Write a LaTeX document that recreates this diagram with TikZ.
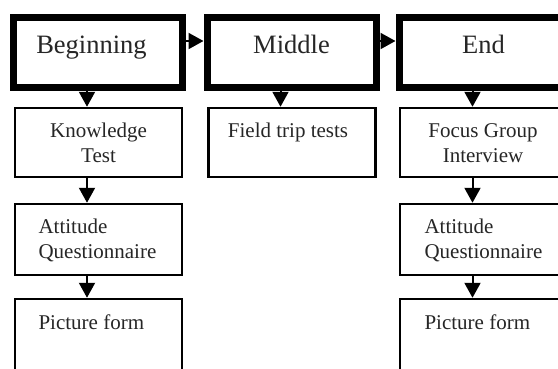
\documentclass[tikz,border=0pt]{standalone}
\usepackage{fontspec}
\setmainfont{Liberation Serif}
\usetikzlibrary{arrows.meta}

\begin{document}
\begin{tikzpicture}
[x=1pt, y=-1pt,
stage/.style={draw, line width=7pt, minimum width=169pt, minimum height=70pt},
task/.style={draw, line width=2.5pt, minimum width=167pt, minimum height=69pt},
stagetext/.style={anchor=base, text=black!85, font=\fontsize{26.5}{30}\selectfont},
tasktext/.style={anchor=base, text=black!85, align=center, font=\fontsize{21}{25}\selectfont},
flow/.style={line width=2pt, -{Triangle[length=15pt, width=16pt]}}]
\useasboundingbox (0,0) rectangle (558,368);
\clip (0,0) rectangle (558,368);
\fill[white] (0,0) rectangle (558,368);
\node[stage] (beg) at (98,52.5) {};
\node[stage] (mid) at (291.5,52.5) {};
\node[stage] (end) at (483.5,52.5) {};
\node[stagetext] (begtxt) at (91.5,53) {Beginning};
\node[stagetext] (midtxt) at (291.5,53) {Middle};
\node[stagetext] (endtxt) at (483.5,53) {End};
\node[task] (know) at (98.5,142.5) {};
\node[task] (trip) at (292,142.5) {};
\node[task] (focus) at (483.5,142.5) {};
\node[tasktext] (knowtxt) at (98.5,162) {Knowledge\\Test};
\node[tasktext] (triptxt) at (288,137) {Field trip tests};
\node[tasktext] (focustxt) at (483,162) {Focus Group\\Interview};
\node[task, minimum height=71pt] (attbeg) at (98.5,239.5) {};
\node[task, minimum height=71pt] (attend) at (483.5,239.5) {};
\node[tasktext, align=left, anchor=base west] (attbegtxt) at (35,258) {Attitude\\Questionnaire};
\node[tasktext, align=left, anchor=base west] (attendtxt) at (421,258) {Attitude\\Questionnaire};
\node[task, minimum height=100pt] (picbeg) at (98.5,349) {};
\node[task, minimum height=100pt] (picend) at (483.5,349) {};
\node[tasktext, anchor=base west] (picbegtxt) at (35,329) {Picture form};
\node[tasktext, anchor=base west] (picendtxt) at (421,329) {Picture form};
\draw[flow] ([yshift=11.5pt]beg.east) -- ([yshift=11.5pt]mid.west);
\draw[flow] ([yshift=11.5pt]mid.east) -- ([yshift=11.5pt]end.west);
\draw[flow] ([xshift=-11pt,yshift=5pt]beg.south) -- ([xshift=-11.5pt]know.north);
\draw[flow] ([xshift=-11pt,yshift=5pt]mid.south) -- ([xshift=-11.5pt]trip.north);
\draw[flow] ([xshift=-11pt,yshift=5pt]end.south) -- ([xshift=-11pt]focus.north);
\draw[flow] ([xshift=-11.5pt]know.south) -- ([xshift=-11.5pt]attbeg.north);
\draw[flow] ([xshift=-11pt]focus.south) -- ([xshift=-11pt]attend.north);
\draw[flow] ([xshift=-11.5pt]attbeg.south) -- ([xshift=-11.5pt]picbeg.north);
\draw[flow] ([xshift=-11pt]attend.south) -- ([xshift=-11pt]picend.north);
\end{tikzpicture}
\end{document}
